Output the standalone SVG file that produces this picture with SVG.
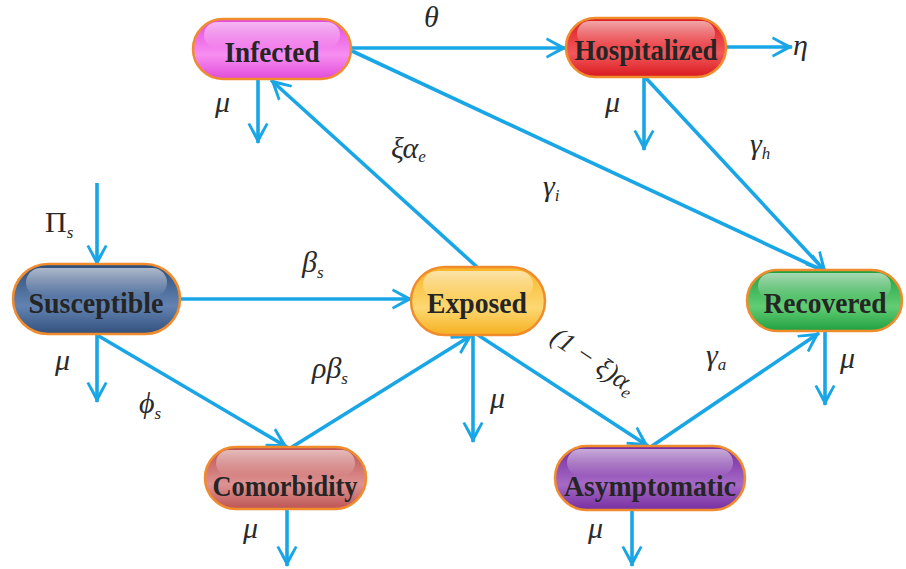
<svg xmlns="http://www.w3.org/2000/svg" width="906" height="569" viewBox="0 0 906 569">
<style>
.conn line{stroke:#19A6E6;stroke-width:3.6;fill:none;marker-end:url(#ah)}
.pill{stroke:#F08C2C;stroke-width:2.5}
.hl{fill:url(#gloss)}
.nt{font-family:"Liberation Serif","Times New Roman",serif;font-weight:bold;font-size:30px;fill:#252525;text-anchor:middle}
.lb{font-family:"Liberation Serif","Times New Roman",serif;font-style:italic;font-size:30px;fill:#2a2a2a}
.sub{font-size:17px}
</style>
<defs>
<marker id="ah" markerUnits="userSpaceOnUse" viewBox="-22 -12 24 24" markerWidth="24" markerHeight="24" refX="0" refY="0" orient="auto">
<path d="M1,0 L-19,-10.5 L-20,-8 L-6,0 L-20,8 L-19,10.5 Z" fill="#19A6E6"/>
</marker>
<linearGradient id="gloss" x1="0" y1="0" x2="0" y2="1">
<stop offset="0" stop-color="#fff" stop-opacity="0.6"/>
<stop offset="1" stop-color="#fff" stop-opacity="0"/>
</linearGradient>
<linearGradient id="gInf" x1="0" y1="0" x2="0" y2="1"><stop offset="0" stop-color="#E448DC"/><stop offset="0.6" stop-color="#F78EF1"/><stop offset="1" stop-color="#E04CD8"/></linearGradient>
<linearGradient id="gHos" x1="0" y1="0" x2="0" y2="1"><stop offset="0" stop-color="#DC1C22"/><stop offset="0.6" stop-color="#F2585C"/><stop offset="1" stop-color="#D81A20"/></linearGradient>
<linearGradient id="gSus" x1="0" y1="0" x2="0" y2="1"><stop offset="0" stop-color="#2F4C78"/><stop offset="0.6" stop-color="#6283B2"/><stop offset="1" stop-color="#33507C"/></linearGradient>
<linearGradient id="gExp" x1="0" y1="0" x2="0" y2="1"><stop offset="0" stop-color="#F7B624"/><stop offset="0.6" stop-color="#FDD873"/><stop offset="1" stop-color="#F5B020"/></linearGradient>
<linearGradient id="gRec" x1="0" y1="0" x2="0" y2="1"><stop offset="0" stop-color="#1E9E3E"/><stop offset="0.6" stop-color="#62CD74"/><stop offset="1" stop-color="#20A040"/></linearGradient>
<linearGradient id="gCom" x1="0" y1="0" x2="0" y2="1"><stop offset="0" stop-color="#BC5050"/><stop offset="0.6" stop-color="#DE9292"/><stop offset="1" stop-color="#BE5454"/></linearGradient>
<linearGradient id="gAsy" x1="0" y1="0" x2="0" y2="1"><stop offset="0" stop-color="#742A9C"/><stop offset="0.6" stop-color="#A66AC6"/><stop offset="1" stop-color="#772EA0"/></linearGradient>
</defs>
<rect width="906" height="569" fill="#fff"/>

<g id="connectors" class="conn">
<line x1="351" y1="48" x2="566" y2="48"/>
<line x1="726" y1="47" x2="792" y2="47"/>
<line x1="258" y1="79" x2="258" y2="143"/>
<line x1="477" y1="267" x2="271" y2="80"/>
<line x1="352" y1="51" x2="826" y2="272"/>
<line x1="644" y1="77" x2="644" y2="150"/>
<line x1="645" y1="77" x2="826" y2="272"/>
<line x1="97" y1="183" x2="97" y2="265"/>
<line x1="180" y1="299" x2="412" y2="299"/>
<line x1="97" y1="334" x2="97" y2="402"/>
<line x1="97" y1="335" x2="287" y2="447"/>
<line x1="292" y1="447" x2="472" y2="335"/>
<line x1="473" y1="335" x2="473" y2="442"/>
<line x1="478" y1="335" x2="648" y2="446"/>
<line x1="652" y1="446" x2="819" y2="333"/>
<line x1="825" y1="331" x2="825" y2="405"/>
<line x1="287" y1="509" x2="287" y2="566"/>
<line x1="632" y1="510" x2="632" y2="566"/>
</g>

<g id="labels" class="lb">
<text x="424" y="27">θ</text>
<text x="793" y="55">η</text>
<text x="215" y="112">μ</text>
<text x="391" y="158">ξα<tspan class="sub" dy="4">e</tspan></text>
<text x="605" y="112">μ</text>
<text x="750" y="154">γ<tspan class="sub" dy="5">h</tspan></text>
<text x="543" y="196">γ<tspan class="sub" dy="5">i</tspan></text>
<text x="45" y="232" style="font-style:normal">Π<tspan class="sub" dy="6" style="font-style:italic">s</tspan></text>
<text x="55" y="370">μ</text>
<text x="139" y="413">ϕ<tspan class="sub" dy="6">s</tspan></text>
<text x="302" y="272">β<tspan class="sub" dy="6">s</tspan></text>
<text x="312" y="378">ρβ<tspan class="sub" dy="6">s</tspan></text>
<text x="490" y="408">μ</text>
<text transform="translate(549,341) rotate(34)" style="font-size:27px">(1 − ξ)α<tspan class="sub" dy="5">e</tspan></text>
<text x="706" y="365">γ<tspan class="sub" dy="5">a</tspan></text>
<text x="840" y="368">μ</text>
<text x="243" y="538">μ</text>
<text x="588" y="538">μ</text>
</g>

<g id="Infected">
<rect class="pill" x="193" y="19" width="158" height="60" rx="30" fill="url(#gInf)"/>
<rect class="hl" x="204" y="22" width="136" height="26" rx="13"/>
<text class="nt" x="272" y="62" textLength="95" lengthAdjust="spacingAndGlyphs">Infected</text>
</g>
<g id="Hospitalized">
<rect class="pill" x="566" y="18" width="160" height="59" rx="29.5" fill="url(#gHos)"/>
<rect class="hl" x="577" y="21" width="138" height="25" rx="12.5"/>
<text class="nt" x="646" y="60" textLength="143" lengthAdjust="spacingAndGlyphs">Hospitalized</text>
</g>
<g id="Susceptible">
<rect class="pill" x="13" y="264" width="167" height="70" rx="35" fill="url(#gSus)"/>
<rect class="hl" x="26" y="268" width="141" height="29" rx="14.5"/>
<text class="nt" x="96" y="313" textLength="135" lengthAdjust="spacingAndGlyphs">Susceptible</text>
</g>
<g id="Exposed">
<rect class="pill" x="411" y="267" width="134" height="68" rx="34" fill="url(#gExp)"/>
<rect class="hl" x="423" y="271" width="110" height="28" rx="14"/>
<text class="nt" x="477" y="313" textLength="100" lengthAdjust="spacingAndGlyphs">Exposed</text>
</g>
<g id="Recovered">
<rect class="pill" x="747" y="270" width="155" height="61" rx="30.5" fill="url(#gRec)"/>
<rect class="hl" x="758" y="273" width="133" height="26" rx="13"/>
<text class="nt" x="825" y="313" textLength="123" lengthAdjust="spacingAndGlyphs">Recovered</text>
</g>
<g id="Comorbidity">
<rect class="pill" x="205" y="447" width="161" height="62" rx="31" fill="url(#gCom)"/>
<rect class="hl" x="216" y="450" width="139" height="26" rx="13"/>
<text class="nt" x="285" y="496" textLength="145" lengthAdjust="spacingAndGlyphs">Comorbidity</text>
</g>
<g id="Asymptomatic">
<rect class="pill" x="555" y="446" width="190" height="64" rx="32" fill="url(#gAsy)"/>
<rect class="hl" x="567" y="449" width="166" height="27" rx="13.5"/>
<text class="nt" x="650" y="496" textLength="172" lengthAdjust="spacingAndGlyphs">Asymptomatic</text>
</g>
</svg>
